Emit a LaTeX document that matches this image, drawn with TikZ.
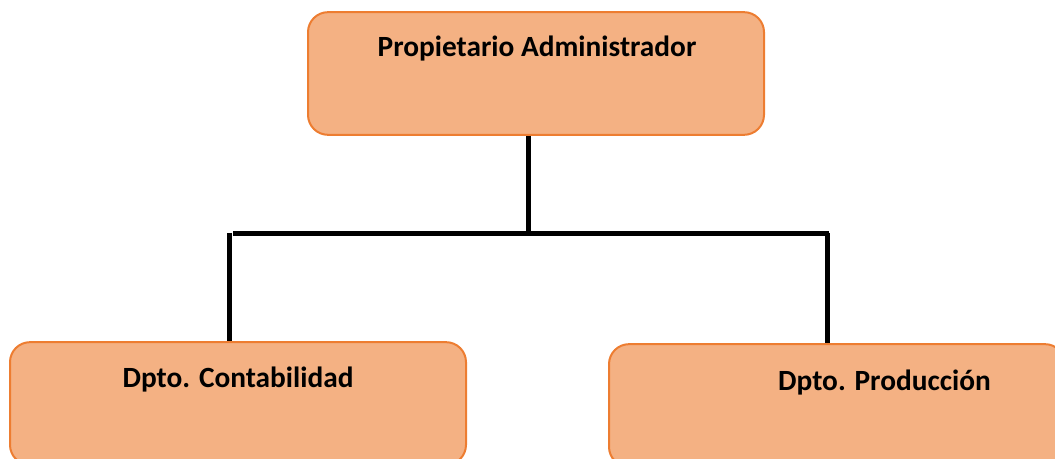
\documentclass[tikz,border=0pt]{standalone}
\usepackage{fontspec}
\setmainfont{Carlito}
\usepackage{tikz}
\usetikzlibrary{positioning}
\definecolor{boxfill}{HTML}{F4B183}
\definecolor{boxline}{HTML}{ED7D31}

\begin{document}
\begin{tikzpicture}[line cap=butt,line join=miter,x=0.75pt,y=-0.75pt,
                    unitbox/.style={draw=boxline, fill=boxfill, line width=1.5pt, rounded corners=15pt, minimum width=342pt, minimum height=92pt, inner sep=0pt},
                    unitlabel/.style={anchor=base, font=\bfseries\fontsize{22}{26}\selectfont}]
                    \useasboundingbox (0,0) rectangle (1055,459);
                    \clip (0,0) rectangle (1055,459);

                    \node [unitbox] (owner) at (536,73.5) {};
                    \node [unitlabel] (ownertext) at (537,57) {Propietario Administrador};

                    \node [unitbox] (acct) at (238,403.5) {};
                    \node [unitlabel] (accttext) at (238,387) {Dpto. Contabilidad};

                    \node [unitbox] (prod) at (837,405.5) {};
                    \node [unitlabel] (prodtext) at (884.5,390) {Dpto. Producción};

                    \coordinate (hub) at (528,233.5);
                    \coordinate (barleft) at (233,233.5);
                    \coordinate (barright) at (829,233.5);
                    \coordinate (dropleft) at (229,233);
                    \coordinate (dropright) at (827.5,233);

                    \draw [line width=3.75pt] (owner.south -| hub) -- (hub);
                    \draw [line width=3.75pt] (barleft) -- (barright);
                    \draw [line width=3.75pt] (dropleft) -- (dropleft |- acct.north);
                    \draw [line width=3.75pt] (dropright) -- (dropright |- prod.north);
                \end{tikzpicture}
\end{document}
